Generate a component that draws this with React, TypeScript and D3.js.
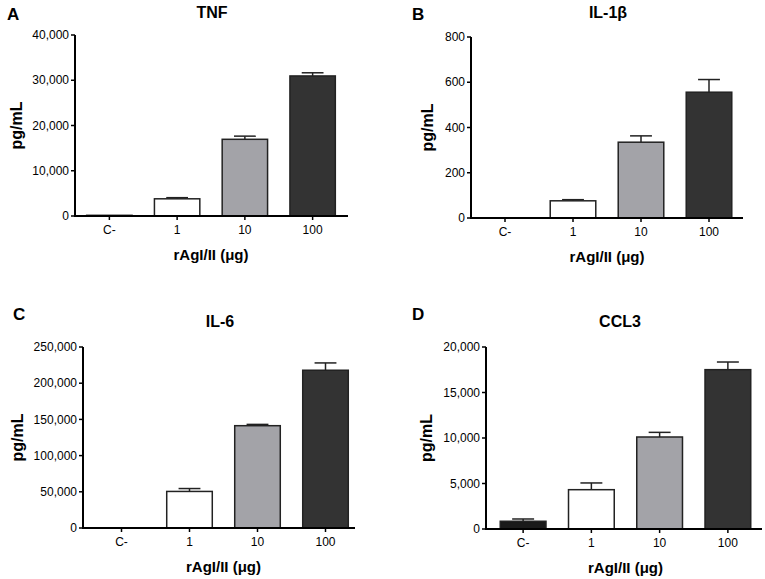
import React from "react";
import * as d3 from "d3";

const categories = ["C-", "1", "10", "100"];
const barFills = ["#1a1a1a", "#ffffff", "#a3a3a8", "#333333"];

const tnfValues = [150, 3800, 16950, 30950];
const tnfErrors = [0, 250, 700, 700];
const il1bValues = [0, 76, 335, 556];
const il1bErrors = [0, 5, 28, 56];
const il6Values = [0, 50500, 141300, 217900];
const il6Errors = [0, 4000, 1800, 10100];
const ccl3Values = [850, 4320, 10110, 17510];
const ccl3Errors = [250, 740, 510, 840];

const tnfTicks = [0, 10000, 20000, 30000, 40000];
const il1bTicks = [0, 200, 400, 600, 800];
const il6Ticks = [0, 50000, 100000, 150000, 200000, 250000];
const ccl3Ticks = [0, 5000, 10000, 15000, 20000];

const panelLetters = ["A", "B", "C", "D"];
const panelTitles = ["TNF", "IL-1\u03b2", "IL-6", "CCL3"];
const xTitle = "rAgI/II (\u03bcg)";
const yTitle = "pg/mL";

const panelData = [
  { values: tnfValues, errors: tnfErrors, ticks: tnfTicks },
  { values: il1bValues, errors: il1bErrors, ticks: il1bTicks },
  { values: il6Values, errors: il6Errors, ticks: il6Ticks },
  { values: ccl3Values, errors: ccl3Errors, ticks: ccl3Ticks },
];

// layout per panel
const layouts = [
  { ax0: 75, ax1: 348, bx0: 75.5, bx1: 346.5, yTop: 35, yBot: 216, letterX: 7, letterY: 20, titleX: 212, titleY: 18, yTitleX: 22 },
  { ax0: 471, ax1: 743, bx0: 471, bx1: 743, yTop: 37, yBot: 218, letterX: 412, letterY: 20, titleX: 608, titleY: 18, yTitleX: 433 },
  { ax0: 83, ax1: 355, bx0: 87.5, bx1: 359.5, yTop: 347, yBot: 528, letterX: 13, letterY: 320, titleX: 220, titleY: 327, yTitleX: 23 },
  { ax0: 486, ax1: 762, bx0: 489, bx1: 762, yTop: 347, yBot: 529, letterX: 412, letterY: 320, titleX: 620, titleY: 327, yTitleX: 432 },
];

const font = "'Liberation Sans', Arial, Helvetica, sans-serif";
const fmt = d3.format(",");

function Panel({ idx }: { idx: number }) {
  const L = layouts[idx];
  const D = panelData[idx];
  const yMax = D.ticks[D.ticks.length - 1];
  const y = d3.scaleLinear().domain([0, yMax]).range([L.yBot, L.yTop]);
  const x = d3.scaleBand().domain(categories).range([L.bx0, L.bx1]).paddingInner(0.33).paddingOuter(0.165);
  const bw = x.bandwidth();
  const capW = bw * 0.48;
  return (
    <g>
      <text x={L.letterX} y={L.letterY} fontFamily={font} fontWeight="bold" fontSize={17} fill="#000">
        {panelLetters[idx]}
      </text>
      <text x={L.titleX} y={L.titleY} textAnchor="middle" fontFamily={font} fontWeight="bold" fontSize={16} fill="#000">
        {panelTitles[idx]}
      </text>
      {/* bars */}
      {categories.map((c, i) => {
        const v = D.values[i];
        if (v <= 0) return null;
        const x0 = x(c)!;
        const cx = x0 + bw / 2;
        const top = y(v);
        const et = y(v + D.errors[i]);
        return (
          <g key={c}>
            {D.errors[i] > 0 && (
              <g stroke="#222" strokeWidth={1.5}>
                <line x1={cx} x2={cx} y1={top} y2={et} />
                <line x1={cx - capW / 2} x2={cx + capW / 2} y1={et} y2={et} />
              </g>
            )}
            <rect
              x={x0}
              y={top}
              width={bw}
              height={Math.max(L.yBot - top, 0.5)}
              fill={barFills[i]}
              stroke="#222"
              strokeWidth={1.5}
            />
          </g>
        );
      })}
      {/* y axis */}
      <line x1={L.ax0} x2={L.ax0} y1={L.yTop} y2={L.yBot} stroke="#000" strokeWidth={2} />
      {D.ticks.map((t) => (
        <g key={t}>
          <line x1={L.ax0 - 4} x2={L.ax0} y1={y(t)} y2={y(t)} stroke="#000" strokeWidth={1.5} />
          <text x={L.ax0 - 6} y={y(t)} dy="0.35em" textAnchor="end" fontFamily={font} fontSize={12} fill="#000">
            {fmt(t)}
          </text>
        </g>
      ))}
      {/* x axis */}
      <line x1={L.ax0 - 1} x2={L.ax1} y1={L.yBot} y2={L.yBot} stroke="#000" strokeWidth={2} />
      {categories.map((c) => {
        const cx = x(c)! + bw / 2;
        return (
          <g key={c}>
            <line x1={cx} x2={cx} y1={L.yBot} y2={L.yBot + 4} stroke="#000" strokeWidth={1.5} />
            <text x={cx} y={L.yBot + 18} textAnchor="middle" fontFamily={font} fontSize={12} fill="#000">
              {c}
            </text>
          </g>
        );
      })}
      <text
        x={(L.bx0 + L.bx1) / 2}
        y={L.yBot + 44}
        textAnchor="middle"
        fontFamily={font}
        fontWeight="bold"
        fontSize={15}
        fill="#000"
      >
        {xTitle}
      </text>
      <text
        transform={`translate(${L.yTitleX},${(L.yTop + L.yBot) / 2}) rotate(-90)`}
        textAnchor="middle"
        fontFamily={font}
        fontWeight="bold"
        fontSize={16}
        fill="#000"
      >
        {yTitle}
      </text>
    </g>
  );
}

export default function App() {
  return (
    <svg
      width={765}
      height={579}
      viewBox="0 0 765 579"
      style={{ position: "absolute", left: 0, top: 0, background: "#fff" }}
    >
      <rect width={765} height={579} fill="#fff" />
      {[0, 1, 2, 3].map((i) => (
        <Panel key={i} idx={i} />
      ))}
    </svg>
  );
}
